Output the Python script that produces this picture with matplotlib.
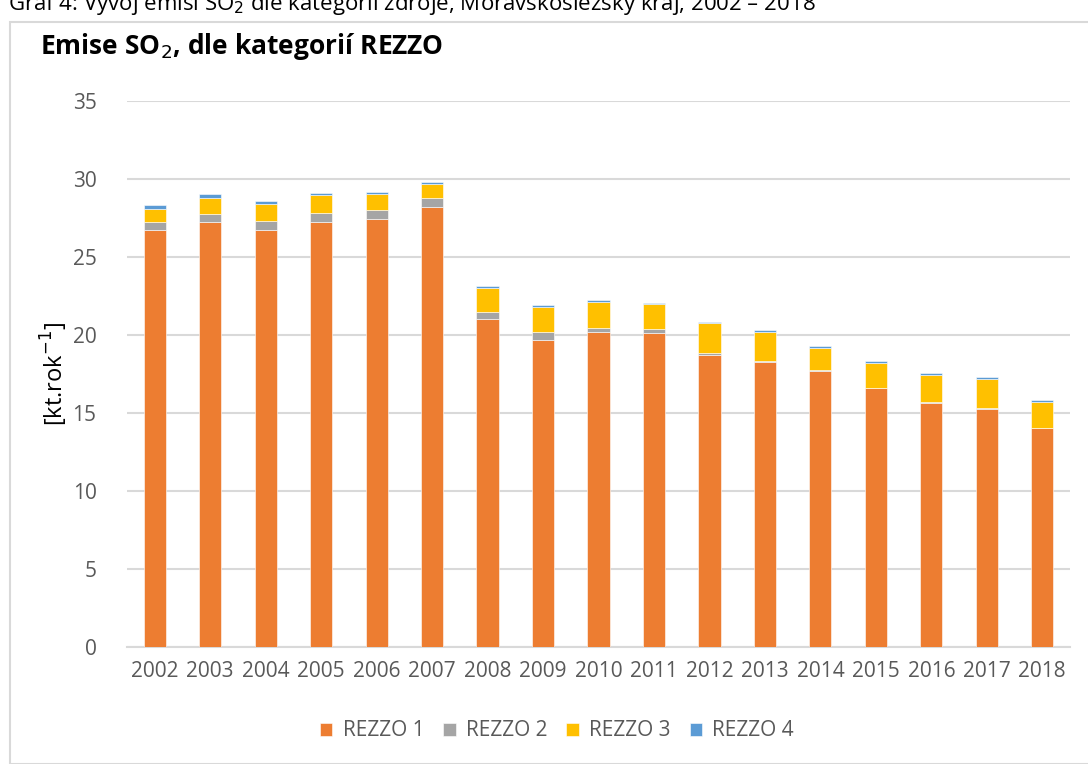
import matplotlib
matplotlib.use("Agg")
from matplotlib import pyplot as plt
from matplotlib.patches import Rectangle

# roky a emise SO2 [kt/rok] podle kategorii REZZO
years = ["2002", "2003", "2004", "2005", "2006", "2007", "2008", "2009", "2010",
         "2011", "2012", "2013", "2014", "2015", "2016", "2017", "2018"]
rezzo1 = [26.75, 27.24, 26.75, 27.24, 27.42, 28.22, 21.00, 19.70, 20.17,
          20.10, 18.70, 18.30, 17.71, 16.58, 15.66, 15.26, 14.02]
rezzo2 = [0.47, 0.51, 0.58, 0.58, 0.58, 0.58, 0.49, 0.49, 0.26,
          0.26, 0.17, 0.05, 0.03, 0.03, 0.03, 0.03, 0.03]
rezzo3 = [0.87, 1.05, 1.07, 1.15, 1.04, 0.88, 1.54, 1.60, 1.71,
          1.60, 1.89, 1.86, 1.45, 1.62, 1.76, 1.92, 1.68]
rezzo4 = [0.24, 0.26, 0.17, 0.11, 0.11, 0.11, 0.11, 0.11, 0.11,
          0.08, 0.08, 0.08, 0.10, 0.11, 0.11, 0.11, 0.11]

series = [("REZZO 1", rezzo1, "#ED7D31"),
          ("REZZO 2", rezzo2, "#A5A5A5"),
          ("REZZO 3", rezzo3, "#FFC000"),
          ("REZZO 4", rezzo4, "#5B9BD5")]

plt.rcParams['font.family'] = ['Open Sans', 'DejaVu Sans']

fig = plt.figure(figsize=(10.88, 7.64), dpi=100)
W, H = 1088, 764

# ramecek grafu
fig.patches.append(Rectangle((10 / W, 0), 1.2, 1 - 22 / H, transform=fig.transFigure,
                             fill=False, edgecolor="#D9D9D9", linewidth=1.5))

# useknuty titulek nad grafem (v predloze je oriznuty)
fig.text(8 / W, 1 + 8 / H, "Graf 4: Vývoj emisí SO$_2$ dle kategorií zdroje, Moravskoslezský kraj, 2002 – 2018",
         fontsize=16, va="top", ha="left", color="#000000")

ax = fig.add_axes([127 / W, (H - 647) / H, (1070 - 127) / W, (647 - 101) / H])

x = list(range(len(years)))
bottom = [0] * len(years)
for name, vals, col in series:
    ax.bar(x, vals, 0.4, bottom=bottom, color=col, label=name,
           edgecolor="white", linewidth=0.4, zorder=3)
    bottom = [b + v for b, v in zip(bottom, vals)]

ax.set_ylim(0, 35)
ax.set_xlim(-0.5, len(years) - 0.5)
ax.set_yticks(range(0, 36, 5))
ax.set_xticks(x)
ax.set_xticklabels(years)
ax.yaxis.grid(True, color="#D9D9D9", linewidth=1.5, zorder=0)
ax.set_axisbelow(True)
for s in ["top", "right", "left"]:
    ax.spines[s].set_visible(False)
ax.spines["bottom"].set_color("#D9D9D9")
ax.spines["bottom"].set_linewidth(1.5)
ax.tick_params(axis="both", length=0, labelsize=15, colors="#595959", pad=10)
ax.tick_params(axis="y", pad=22)

ax.set_ylabel("[kt.rok$^{-1}$]", fontsize=17, color="#000000", labelpad=2)

fig.text(40 / W, 1 - 47 / H, "Emise SO$_2$, dle kategorií REZZO", fontsize=19,
         fontweight="bold", va="center", ha="left")

ax.legend(loc="center", bbox_to_anchor=(0.456, (647 - 731) / (647 - 101)), ncol=4,
          frameon=False, fontsize=15, handlelength=0.6, handleheight=0.6,
          columnspacing=0.9, handletextpad=0.5, labelcolor="#595959")

fig.savefig("out.png", dpi=100)
